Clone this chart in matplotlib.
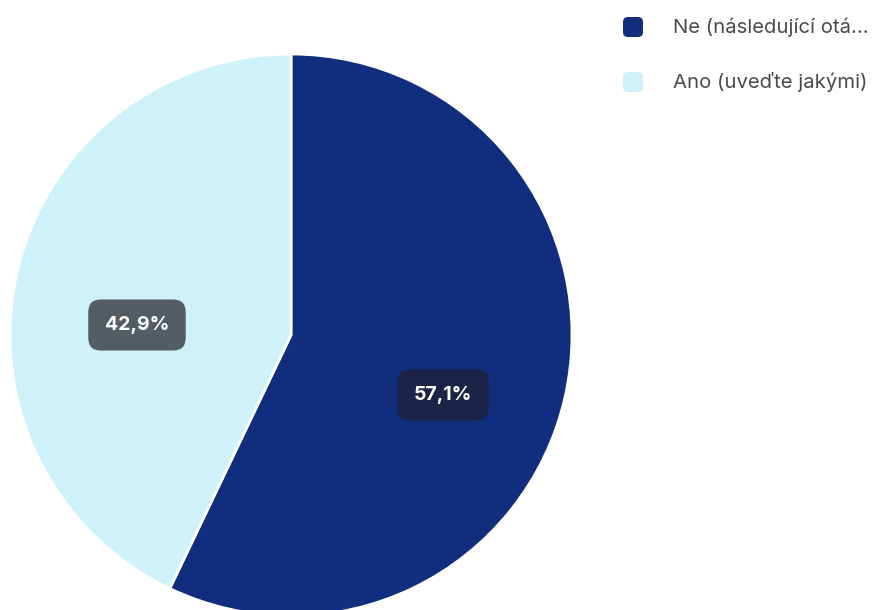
import matplotlib.pyplot as plt
from matplotlib.patches import FancyBboxPatch

plt.rcParams['font.family'] = ['Inter', 'DejaVu Sans']

labels = ['Ne (následující otá...', 'Ano (uveďte jakými)']
values = [57.1, 42.9]
colors = ['#102d7e', '#cff1f9']
box_colors = ['#1b2446', '#545d63']

W, H = 880, 610
fig = plt.figure(figsize=(W / 100, H / 100), dpi=100)
ax = fig.add_axes([0, 0, 1, 1])

cx, cy, r = 291, H - 335, 281
wedges, texts, autotexts = ax.pie(
    values, colors=colors, startangle=90, counterclock=False,
    center=(cx, cy), radius=r,
    wedgeprops=dict(edgecolor='white', linewidth=2),
    autopct=lambda p: ('%.1f%%' % p).replace('.', ','), pctdistance=0.55)

# label positions as in the reference
label_pos = [(443, H - 395), (137, H - 325)]
for t, pos, bc in zip(autotexts, label_pos, box_colors):
    t.set_position(pos)
    t.set_color('white')
    t.set_fontsize(14)
    t.set_fontweight('bold')
    t.set_bbox(dict(boxstyle='round,pad=0.85,rounding_size=0.65', fc=bc, ec='none'))

ax.set_xlim(0, W)
ax.set_ylim(0, H)
ax.set_aspect('equal')
ax.axis('off')

# legend
for i, (lab, c) in enumerate(zip(labels, colors)):
    y = H - (27 + 55 * i)
    ax.add_patch(FancyBboxPatch((623, y - 10), 20, 20,
                                boxstyle='round,pad=0,rounding_size=5',
                                fc=c, ec='none', clip_on=False))
    ax.text(673, y, lab, fontsize=14.6, color='#4a4a4a', va='center', ha='left')

fig.savefig('out.png', dpi=100)
